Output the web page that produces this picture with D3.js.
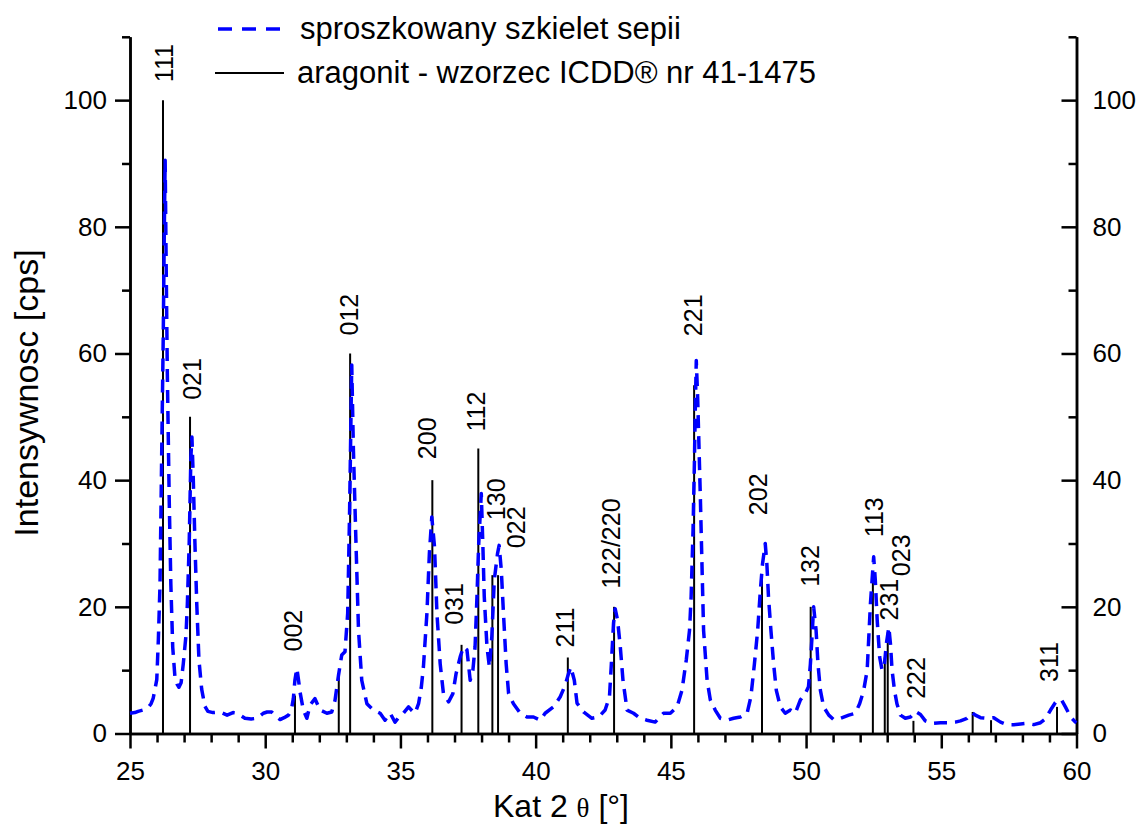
<!DOCTYPE html>
<html lang="pl">
<head>
<meta charset="utf-8">
<script src="https://cdn.jsdelivr.net/npm/d3@7"></script>
<style>
  html, body { margin: 0; padding: 0; background: #fff; }
  svg { display: block; font-family: "Liberation Sans", Arial, Helvetica, sans-serif; }
</style>
</head>
<body>
<svg id="chart" width="1141" height="825"></svg>
<script>
// Measured diffractogram of powdered cuttlebone (2θ in degrees, intensity in cps)
const curveTheta = [
  25.00, 25.18, 25.30, 25.48, 25.67, 25.78, 25.86, 25.99, 26.05, 26.11, 26.17, 26.23, 26.27, 26.30, 26.33, 26.38,
  26.45, 26.51, 26.58, 26.66, 26.74, 26.81, 26.89, 26.97, 27.07, 27.12, 27.19, 27.25, 27.29, 27.34, 27.40, 27.47,
  27.55, 27.65, 27.77, 27.88, 28.07, 28.33, 28.59, 28.81, 28.96, 29.25, 29.48, 29.70, 29.93, 30.07, 30.24, 30.40,
  30.55, 30.70, 30.86, 30.96, 31.04, 31.10, 31.17, 31.23, 31.29, 31.41, 31.54, 31.66, 31.84, 32.03, 32.28, 32.46,
  32.58, 32.71, 32.83, 32.95, 33.05, 33.12, 33.20, 33.26, 33.36, 33.45, 33.57, 33.76, 34.00, 34.25, 34.43, 34.62,
  34.80, 34.95, 35.11, 35.30, 35.43, 35.54, 35.67, 35.77, 35.85, 35.98, 36.07, 36.16, 36.26, 36.35, 36.47, 36.59,
  36.78, 36.94, 37.06, 37.21, 37.33, 37.46, 37.58, 37.68, 37.76, 37.83, 37.89, 37.99, 38.05, 38.10, 38.20, 38.29,
  38.38, 38.47, 38.59, 38.65, 38.73, 38.81, 38.91, 39.00, 39.18, 39.43, 39.68, 39.92, 40.17, 40.35, 40.66, 40.91,
  41.09, 41.22, 41.30, 41.43, 41.53, 41.77, 42.08, 42.33, 42.57, 42.73, 42.80, 42.88, 42.94, 43.03, 43.13, 43.23,
  43.38, 43.62, 43.87, 44.12, 44.42, 44.73, 44.98, 45.23, 45.41, 45.57, 45.69, 45.75, 45.82, 45.87, 45.90, 45.94,
  45.99, 46.04, 46.09, 46.15, 46.21, 46.34, 46.46, 46.64, 46.83, 47.08, 47.32, 47.57, 47.82, 47.96, 48.09, 48.21,
  48.31, 48.39, 48.49, 48.55, 48.61, 48.70, 48.80, 48.90, 49.05, 49.23, 49.42, 49.60, 49.79, 49.97, 50.09, 50.16,
  50.22, 50.28, 50.37, 50.44, 50.53, 50.65, 50.84, 51.02, 51.27, 51.58, 51.82, 51.98, 52.13, 52.26, 52.32, 52.38,
  52.44, 52.50, 52.56, 52.63, 52.72, 52.81, 52.90, 52.97, 53.06, 53.12, 53.18, 53.27, 53.36, 53.49, 53.67, 53.86,
  54.04, 54.23, 54.41, 54.66, 54.97, 55.27, 55.52, 55.71, 55.95, 56.14, 56.26, 56.45, 56.69, 56.94, 57.19, 57.43,
  57.68, 57.93, 58.17, 58.42, 58.67, 58.85, 59.04, 59.22, 59.34, 59.46, 59.59, 59.78, 59.96, 60.00
];
const curveCps = [
  3.2, 3.3, 3.5, 3.7, 4.1, 4.7, 5.6, 8.5, 15.0, 23.6, 43.5, 63.0, 80.0, 90.5, 77.0, 57.0,
  37.0, 23.6, 13.6, 9.0, 7.8, 7.3, 8.0, 11.0, 15.5, 20.3, 30.2, 43.5, 46.8, 40.2, 30.2, 20.3,
  11.6, 7.0, 4.3, 3.5, 3.3, 3.4, 2.9, 3.3, 3.2, 2.4, 2.3, 2.4, 3.2, 3.4, 3.4, 2.7,
  2.2, 2.5, 2.9, 3.6, 5.5, 8.5, 10.3, 8.5, 6.5, 3.7, 2.4, 4.5, 5.5, 3.7, 3.2, 3.4,
  5.2, 9.2, 12.4, 12.9, 19.0, 35.0, 58.2, 45.0, 29.5, 16.3, 8.4, 4.7, 3.7, 3.2, 2.1, 3.2,
  1.8, 2.6, 3.2, 4.2, 3.6, 3.2, 4.7, 7.2, 10.5, 19.0, 28.4, 34.2, 29.5, 19.0, 11.0, 6.3,
  5.0, 6.3, 9.5, 12.1, 13.7, 13.2, 8.4, 10.0, 13.7, 21.6, 29.5, 37.9, 29.5, 21.6, 13.7, 10.5,
  15.3, 24.2, 28.4, 29.7, 25.8, 19.0, 11.0, 6.3, 4.7, 3.2, 2.6, 2.6, 2.1, 3.2, 4.2, 5.8,
  7.6, 9.5, 10.5, 8.4, 4.8, 3.4, 2.4, 2.6, 3.7, 5.8, 11.0, 17.4, 19.7, 17.9, 13.7, 8.4,
  3.7, 3.2, 2.4, 2.1, 1.8, 3.2, 3.2, 4.2, 6.8, 11.6, 16.3, 21.6, 32.1, 42.6, 50.5, 58.9,
  53.2, 45.3, 37.4, 26.8, 16.3, 8.4, 5.3, 3.7, 2.4, 2.1, 2.4, 2.6, 3.2, 5.8, 11.0, 16.3,
  22.6, 26.8, 30.0, 26.8, 21.6, 16.3, 11.0, 6.8, 4.2, 3.2, 3.7, 3.2, 5.3, 6.3, 7.4, 11.0,
  15.3, 20.0, 16.3, 11.0, 6.8, 4.2, 2.9, 2.2, 2.4, 2.9, 3.2, 4.7, 6.8, 10.0, 15.3, 20.5,
  24.2, 27.9, 24.2, 17.9, 12.1, 10.0, 11.0, 14.2, 16.8, 14.2, 10.0, 6.8, 4.7, 2.9, 2.4, 2.6,
  3.5, 3.0, 2.0, 1.6, 1.7, 1.7, 1.8, 2.0, 2.4, 3.3, 2.9, 2.5, 2.4, 2.5, 1.8, 1.4,
  1.4, 1.5, 1.6, 1.4, 1.7, 2.3, 3.7, 4.9, 5.4, 5.2, 4.2, 2.6, 1.8, 1.7
];

// Aragonite reference pattern, ICDD 41-1475 (relative intensities, Miller indices)
const stickTheta = [26.22, 27.22, 31.10, 32.72, 33.14, 36.18, 37.26, 37.88, 38.40, 38.61, 41.19,
                    42.90, 45.86, 48.37, 50.17, 52.47, 52.91, 53.02, 53.97, 56.16, 56.84, 59.28];
const stickCps   = [100, 50, 6, 9, 60, 40, 14, 45, 25, 25, 12,
                    20, 55, 25, 20, 25, 12, 16, 2, 3.4, 2.1, 4.2];
const stickHkl   = ["111", "021", "002", "", "012", "200", "031", "112", "130", "022", "211",
                    "122/220", "221", "202", "132", "113", "231", "023", "222", "", "", "311"];

// Pixel nudges of each index label relative to the top of its line: [dx, dy]
const labelNudge = [[1, -18], [2, -17], [-2, -44], [0, 0], [-1.5, -18], [-5, -21], [-7.5, -20], [-2.5, -17],
                    [4, -55], [17.5, -27], [-3, -10], [-2.7, -18], [-0.7, -49], [-4.3, -60], [-0.7, -20],
                    [1, -38], [4, -37], [13.6, -56], [3, -22], [0, 0], [0, 0], [-8.5, -25]];

// Axis ticks
const xMajorTicks = [25, 30, 35, 40, 45, 50, 55, 60];
const xMinorTicks = [26, 27, 28, 29, 31, 32, 33, 34, 36, 37, 38, 39, 41, 42, 43, 44,
                     46, 47, 48, 49, 51, 52, 53, 54, 56, 57, 58, 59];
const yMajorTicks = [0, 20, 40, 60, 80, 100];
const yMinorTicks = [10, 30, 50, 70, 90, 110];

const legendLabels = ["sproszkowany szkielet sepii", "aragonit - wzorzec ICDD® nr 41-1475"];

(function draw() {
  const svg = d3.select("#chart");
  const plotL = 130, plotR = 1076.5, plotT = 36.8, plotB = 733.5;

  const x = d3.scaleLinear().domain([25, 60]).range([plotL, plotR]);
  const y = d3.scaleLinear().domain([0, 110]).range([plotB, plotT]);

  const tickFont = 26;

  function styleAxis(g) {
    g.selectAll("path.domain").attr("stroke", "#000").attr("stroke-width", 2.5);
    g.selectAll(".tick line").attr("stroke", "#000").attr("stroke-width", 2.5);
    g.selectAll(".tick text").attr("fill", "#000").attr("font-size", tickFont)
      .attr("font-family", "'Liberation Sans', Arial, Helvetica, sans-serif");
  }

  // Bottom axis
  svg.append("g").attr("transform", `translate(0,${plotB})`)
    .call(d3.axisBottom(x).tickValues(xMinorTicks).tickSize(9).tickSizeOuter(0).tickFormat(""))
    .call(styleAxis);
  svg.append("g").attr("transform", `translate(0,${plotB})`)
    .call(d3.axisBottom(x).tickValues(xMajorTicks).tickSize(15).tickSizeOuter(0).tickPadding(13).tickFormat(d3.format("d")))
    .call(styleAxis);

  // Left axis
  svg.append("g").attr("transform", `translate(${plotL},0)`)
    .call(d3.axisLeft(y).tickValues(yMinorTicks).tickSize(8).tickSizeOuter(0).tickFormat(""))
    .call(styleAxis);
  svg.append("g").attr("transform", `translate(${plotL},0)`)
    .call(d3.axisLeft(y).tickValues(yMajorTicks).tickSize(15).tickSizeOuter(0).tickPadding(8).tickFormat(d3.format("d")))
    .call(styleAxis);

  // Right axis, ticks pointing inwards
  svg.append("g").attr("transform", `translate(${plotR},0)`)
    .call(d3.axisRight(y).tickValues(yMinorTicks).tickSizeInner(-8).tickSizeOuter(0).tickFormat(""))
    .call(styleAxis);
  svg.append("g").attr("transform", `translate(${plotR},0)`)
    .call(d3.axisRight(y).tickValues(yMajorTicks).tickSizeInner(-15).tickSizeOuter(0).tickPadding(16).tickFormat(d3.format("d")))
    .call(styleAxis);

  // Reference lines
  const sticks = stickTheta.map((t, i) => ({ t, v: stickCps[i], hkl: stickHkl[i], nudge: labelNudge[i] }));
  svg.append("g").selectAll("line").data(sticks).join("line")
    .attr("x1", d => x(d.t)).attr("x2", d => x(d.t))
    .attr("y1", y(0)).attr("y2", d => y(d.v))
    .attr("stroke", "#000").attr("stroke-width", 2);

  // Measured pattern
  const pts = curveTheta.map((t, i) => [t, curveCps[i]]);
  svg.append("path").datum(pts)
    .attr("d", d3.line().x(d => x(d[0])).y(d => y(d[1])))
    .attr("fill", "none").attr("stroke", "#0000ff").attr("stroke-width", 3.5)
    .attr("stroke-dasharray", "13,8").attr("stroke-linejoin", "round");

  // Miller index labels
  svg.append("g").selectAll("text").data(sticks.filter(d => d.hkl)).join("text")
    .attr("transform", d => `translate(${x(d.t) + d.nudge[0]},${y(d.v) + d.nudge[1]}) rotate(-90)`)
    .attr("dy", "0.36em")
    .attr("font-size", 25).attr("fill", "#000")
    .text(d => d.hkl);

  // Legend
  const lg = svg.append("g");
  lg.append("line").attr("x1", 218).attr("x2", 284).attr("y1", 29).attr("y2", 29)
    .attr("stroke", "#0000ff").attr("stroke-width", 3.5).attr("stroke-dasharray", "14,10");
  lg.append("text").attr("x", 300).attr("y", 39).attr("font-size", 31).text(legendLabels[0]);
  lg.append("line").attr("x1", 215).attr("x2", 284).attr("y1", 73).attr("y2", 73)
    .attr("stroke", "#000").attr("stroke-width", 2);
  lg.append("text").attr("x", 297).attr("y", 83).attr("font-size", 31).text(legendLabels[1]);

  // Axis titles
  svg.append("text")
    .attr("transform", "translate(38,393) rotate(-90)")
    .attr("text-anchor", "middle").attr("font-size", 34)
    .text("Intensywnosc [cps]");

  const xt = svg.append("text").attr("x", 561).attr("y", 817)
    .attr("text-anchor", "middle").attr("font-size", 32);
  xt.append("tspan").text("Kat 2 ");
  xt.append("tspan").attr("font-family", "'Liberation Serif', 'DejaVu Serif', serif").attr("font-size", 27).text("θ");
  xt.append("tspan").text(" [°]");
})();
</script>
</body>
</html>
